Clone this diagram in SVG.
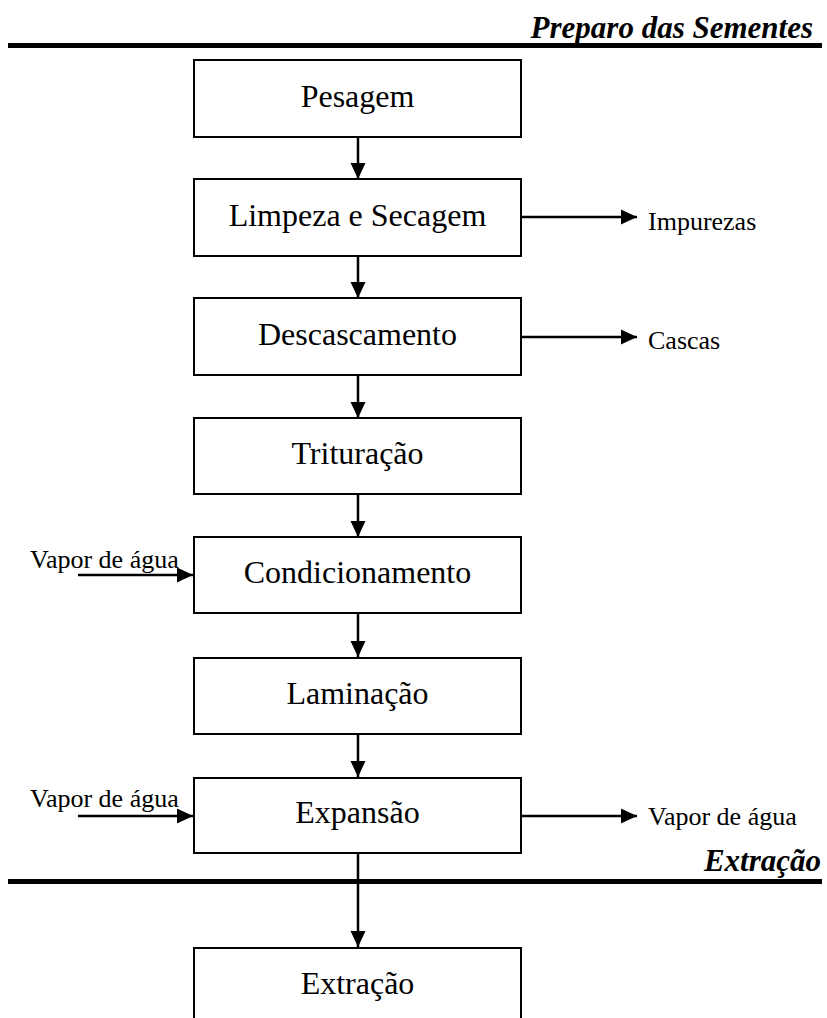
<svg xmlns="http://www.w3.org/2000/svg" width="827" height="1018" viewBox="0 0 827 1018">
<style>
.box{fill:#fff;stroke:#000;stroke-width:2}
.lbl{font-family:"Liberation Serif","Times New Roman",serif;font-size:32px;fill:#000;text-anchor:middle}
.sm{font-family:"Liberation Serif","Times New Roman",serif;font-size:26px;fill:#000}
.ttl{font-family:"Liberation Serif","Times New Roman",serif;font-size:31px;font-weight:bold;font-style:italic;fill:#000;text-anchor:end}
.sec{stroke:#000;stroke-width:5}
.con{stroke:#000;stroke-width:2.5;fill:none;marker-end:url(#ah)}
</style>
<defs>
<marker id="ah" markerUnits="userSpaceOnUse" markerWidth="16" markerHeight="16" viewBox="0 0 16 16" refX="16" refY="8" orient="auto">
<path d="M0,0.5 L16,8 L0,15.5 Z" fill="#000"/>
</marker>
</defs>
<g id="sections">
<line class="sec" x1="8" y1="45.5" x2="822" y2="45.5"/>
<text class="ttl" x="813" y="38">Preparo das Sementes</text>
<line class="sec" x1="8" y1="881.5" x2="822" y2="881.5"/>
<text class="ttl" x="821" y="871">Extração</text>
</g>
<g id="connectors">
<line class="con" x1="358" y1="137" x2="358" y2="179"/>
<line class="con" x1="358" y1="256" x2="358" y2="298"/>
<line class="con" x1="358" y1="375" x2="358" y2="418"/>
<line class="con" x1="358" y1="494" x2="358" y2="537"/>
<line class="con" x1="358" y1="613" x2="358" y2="657"/>
<line class="con" x1="358" y1="734" x2="358" y2="777"/>
<line class="con" x1="358" y1="853" x2="358" y2="947"/>
<line class="con" x1="521" y1="217" x2="637" y2="217"/>
<line class="con" x1="521" y1="337" x2="637" y2="337"/>
<line class="con" x1="521" y1="816" x2="637" y2="816"/>
<line class="con" x1="78" y1="575" x2="193" y2="575"/>
<line class="con" x1="78" y1="816" x2="193" y2="816"/>
</g>
<g id="n1"><rect class="box" x="194" y="60" width="327" height="77"/><text class="lbl" x="357.5" y="107">Pesagem</text></g>
<g id="n2"><rect class="box" x="194" y="179" width="327" height="77"/><text class="lbl" x="357.5" y="226">Limpeza e Secagem</text></g>
<g id="n3"><rect class="box" x="194" y="298" width="327" height="77"/><text class="lbl" x="357.5" y="345">Descascamento</text></g>
<g id="n4"><rect class="box" x="194" y="418" width="327" height="76"/><text class="lbl" x="357.5" y="464">Trituração</text></g>
<g id="n5"><rect class="box" x="194" y="537" width="327" height="76"/><text class="lbl" x="357.5" y="583">Condicionamento</text></g>
<g id="n6"><rect class="box" x="194" y="658" width="327" height="76"/><text class="lbl" x="357.5" y="704">Laminação</text></g>
<g id="n7"><rect class="box" x="194" y="778" width="327" height="75"/><text class="lbl" x="357.5" y="823">Expansão</text></g>
<g id="n8"><rect class="box" x="194" y="948" width="327" height="90"/><text class="lbl" x="357.5" y="994">Extração</text></g>
<g id="out1"><text class="sm" x="648" y="230">Impurezas</text></g>
<g id="out2"><text class="sm" x="648" y="349">Cascas</text></g>
<g id="out3"><text class="sm" x="648" y="825">Vapor de água</text></g>
<g id="in1"><text class="sm" x="30" y="568">Vapor de água</text></g>
<g id="in2"><text class="sm" x="30" y="807">Vapor de água</text></g>
</svg>
